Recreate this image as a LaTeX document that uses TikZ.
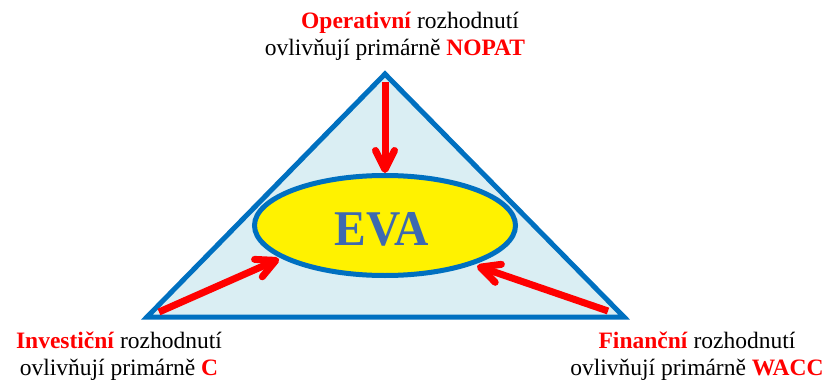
\documentclass[tikz,border=0pt]{standalone}
\usepackage{fontspec}
\setmainfont{Liberation Serif}
\usetikzlibrary{arrows.meta,shapes.geometric}

\definecolor{edgeblue}{HTML}{0070C0}
\definecolor{paleblue}{HTML}{DAEEF3}
\definecolor{evablue}{HTML}{3D69B0}
\definecolor{hotred}{HTML}{FF0000}

\newcommand\hl[1]{\textcolor{hotred}{\textbf{#1}}}

\tikzset{
  caption/.style={font=\fontsize{23.5}{27}\selectfont, align=center, inner sep=0pt},
  push/.style={draw=hotred, line width=7pt,
    -{Straight Barb[length=19pt,width=19pt,round]}},
  frame/.style={draw=edgeblue, line width=5pt},
}

\begin{document}
\begin{tikzpicture}[x=1pt,y=-1pt]
  \useasboundingbox[fill=white] (0,0) rectangle (827,385);

  % triangle of decisions
  \coordinate (apex)  at (385,74);
  \coordinate (left)  at (147,317);
  \coordinate (right) at (624,317);
  \draw[frame, fill=paleblue] (apex) -- (left) -- (right) -- cycle;

  % central ellipse
  \node[ellipse, frame, fill=yellow, inner sep=0pt,
        minimum width=261pt, minimum height=100pt] (eva) at (385,225.5) {};
  \node[font=\fontsize{50}{50}\selectfont\bfseries, text=evablue, inner sep=0pt]
        (evatext) at (382,229.5) {\scalebox{0.95}[1]{EVA}};

  % arrows pointing into the ellipse
  \coordinate (topfoot)   at (385,82);
  \coordinate (leftfoot)  at (159,312);
  \coordinate (lefttip)   at (279,259);
  \coordinate (rightfoot) at (608,311);
  \coordinate (righttip)  at (477,266);
  \draw[push] (topfoot) -- (eva.north);
  \draw[push] (leftfoot) -- (lefttip);
  \draw[push] (rightfoot) -- (righttip);

  % captions
  \node[caption] (oper) at (395,36)
    {\hspace*{30pt}\hl{Operativní} rozhodnutí\\ ovlivňují primárně \hl{NOPAT}};
  \node[caption] (inv) at (119,356)
    {\hl{Investiční} rozhodnutí\\ ovlivňují primárně \hl{C}};
  \node[caption] (fin) at (697,356)
    {\hl{Finanční} rozhodnutí\\ ovlivňují primárně \hl{WACC}};
\end{tikzpicture}
\end{document}
